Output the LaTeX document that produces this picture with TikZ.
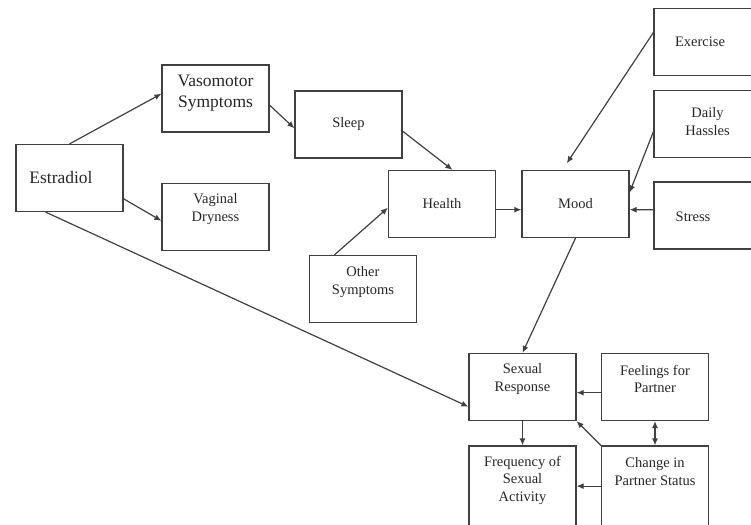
\documentclass[tikz,border=0pt]{standalone}
\usepackage{fontspec}
\setmainfont{Liberation Serif}
\usetikzlibrary{arrows.meta}

\begin{document}
\begin{tikzpicture}[x=1pt, y=-1pt, >={Latex[length=7pt,width=6pt]},
	box/.style={draw=black!75, line width=1.2pt, minimum width=107pt, minimum height=67pt, inner sep=0pt},
	txt/.style={align=center, text=black!85, font=\fontsize{14.5}{17.5}\selectfont},
	bigtxt/.style={txt, font=\fontsize{17.5}{21}\selectfont},
	conn/.style={draw=black!75, line width=1.2pt, ->}]
	\useasboundingbox (0,0) rectangle (751,524);
	\clip (0,0) rectangle (751,524);

	% Left side
	\node [box, label={[bigtxt, xshift=-8.5pt]center:Estradiol}] (estradiol) at (69.5,178) {};
	\node [box, label={[bigtxt, yshift=5pt]center:{Vasomotor\\Symptoms}}] (vasomotor) at (215.5,98.5) {};
	\node [box, label={[txt]center:Sleep}] (sleep) at (348.5,124.5) {};
	\node [box, label={[txt, yshift=8pt]center:{Vaginal\\Dryness}}] (vagdry) at (215.5,217) {};
	\node [box, label={[txt, yshift=7pt]center:{Other\\Symptoms}}] (othersym) at (363,289) {};
	\node [box, label={[txt]center:Health}] (health) at (442,204) {};
	\node [box, label={[txt]center:Mood}] (mood) at (575.5,204) {};

	% Right side
	\node [box, label={[txt, xshift=-7.5pt]center:Exercise}] (exercise) at (707.5,42) {};
	\node [box, label={[txt, yshift=2.5pt]center:{Daily\\Hassles}}] (hassles) at (707.5,124) {};
	\node [box, label={[txt, xshift=-14.5pt, yshift=-1.5pt]center:Stress}] (stress) at (707.5,215.5) {};

	% Bottom
	\node [box, label={[txt, yshift=8pt]center:{Sexual\\Response}}] (sexresp) at (522.5,387) {};
	\node [box, label={[txt, yshift=8pt]center:{Feelings for\\Partner}}] (feelings) at (655,387) {};
	\node [box, minimum height=84pt, label={[txt, yshift=8pt]center:{Frequency of\\Sexual\\Activity}}] (freq) at (522.5,488) {};
	\node [box, minimum height=84pt, label={[txt, yshift=16.5pt]center:{Change in\\Partner Status}}] (change) at (655,488) {};

	% Paths
	\draw [conn] (estradiol.north) -- (vasomotor.175);
	\draw [conn] (estradiol.-21) -- (vagdry.184);
	\draw [conn] (estradiol.235) -- (sexresp.200);
	\draw [conn] (vasomotor.-7) -- (sleep.184);
	\draw [conn] (sleep.-7) -- (health.73);
	\draw [conn] (othersym.130) -- (health.184);
	\draw [conn] (health.-6) -- (mood.186);
	\draw [conn, shorten >=8pt] (exercise.170) -- (mood.111);
	\draw [conn] (hassles.188) -- (mood.12);
	\draw [conn] (stress.174) -- (mood.-6);
	\draw [conn] (mood.south) -- (sexresp.north);
	\draw [conn] (feelings.186) -- (sexresp.-6);
	\draw [conn] (sexresp.south) -- (freq.north);
	\draw [conn, <->] (feelings.south) -- (change.north);
	\draw [conn] (change.north west) -- (sexresp.south east);
	\draw [conn] (change.178) -- (freq.2);
\end{tikzpicture}
\end{document}
